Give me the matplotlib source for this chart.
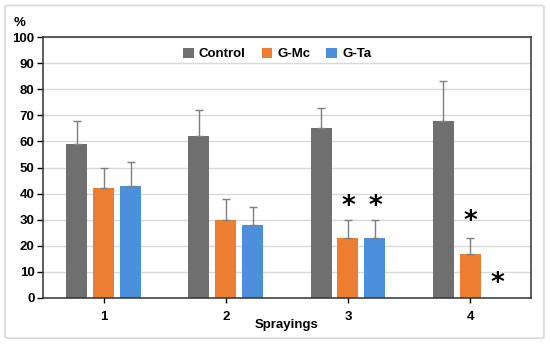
import matplotlib.pyplot as plt
import numpy as np
from matplotlib.patches import FancyBboxPatch

plt.rcParams['font.family'] = ['Liberation Sans', 'DejaVu Sans']
plt.rcParams['font.weight'] = 'bold'

sprayings = ['1', '2', '3', '4']
series = ['Control', 'G-Mc', 'G-Ta']
control = [59, 62, 65, 68]
control_err = [9, 10, 8, 15]
g_mc = [42, 30, 23, 17]
g_mc_err = [8, 8, 7, 6]
g_ta = [43, 28, 23, 0]
g_ta_err = [9, 7, 7, 0]
# asterisk heights (group index, series index, y)
stars = [(2, 1, 35), (2, 2, 35), (3, 1, 29), (3, 2, 5.5)]

colors = ['#6f6f6f', '#ed7d31', '#4a90da']
values = [control, g_mc, g_ta]
errors = [control_err, g_mc_err, g_ta_err]

fig = plt.figure(figsize=(5.5, 3.44), dpi=100)
ax = fig.add_axes([0.078, 0.134, 0.8875, 0.758])

# outer light border
fig.patches.append(FancyBboxPatch((0.009, 0.017), 0.98, 0.967,
                                  boxstyle='round,pad=0,rounding_size=0.005',
                                  transform=fig.transFigure, fill=False,
                                  edgecolor='#d9d9d9', linewidth=1.2))

x = np.arange(len(sprayings))
offset = 0.221
width = 0.172
for i, (vals, errs, col, name) in enumerate(zip(values, errors, colors, series)):
    pos = x + (i - 1) * offset
    v = np.array(vals, dtype=float)
    e = np.array(errs, dtype=float)
    ax.bar(pos, v, width, color=col, label=name, zorder=2)
    mask = v > 0
    ax.errorbar(pos[mask], v[mask], yerr=[np.zeros(mask.sum()), e[mask]],
                fmt='none', ecolor='#7f7f7f', elinewidth=1, capsize=2.8,
                capthick=1, zorder=3)

for g, s, y in stars:
    ax.text(x[g] + (s - 1) * offset, y, '*', ha='center', va='center',
            fontsize=19, fontweight='bold', color='black',
            family='DejaVu Sans', zorder=4)

ax.set_xlim(-0.5, 3.5)
ax.set_ylim(0, 100)
ax.set_yticks(np.arange(0, 101, 10))
ax.set_xticks(x)
ax.set_xticklabels(sprayings)
ax.tick_params(axis='y', direction='out', length=4, width=1, labelsize=9.5, pad=2)
ax.tick_params(axis='x', direction='inout', length=7, width=1, labelsize=9.5, pad=6)
ax.yaxis.grid(True, color='#d9d9d9', linewidth=1, zorder=0)
ax.set_axisbelow(True)
for sp in ax.spines.values():
    sp.set_linewidth(1.1)
    sp.set_color('#333333')

ax.set_xlabel('Sprayings', fontsize=9.5, fontweight='bold', labelpad=-3)
fig.text(0.035, 0.932, '%', fontsize=9.5, fontweight='bold', ha='center', va='center')

ax.legend(loc='upper center', bbox_to_anchor=(0.48, 1.0), ncol=3, frameon=False,
          fontsize=9.5, handlelength=0.8, handleheight=0.8, handletextpad=0.4,
          columnspacing=1.2, borderaxespad=0.4)

fig.savefig('out.png', dpi=100)
